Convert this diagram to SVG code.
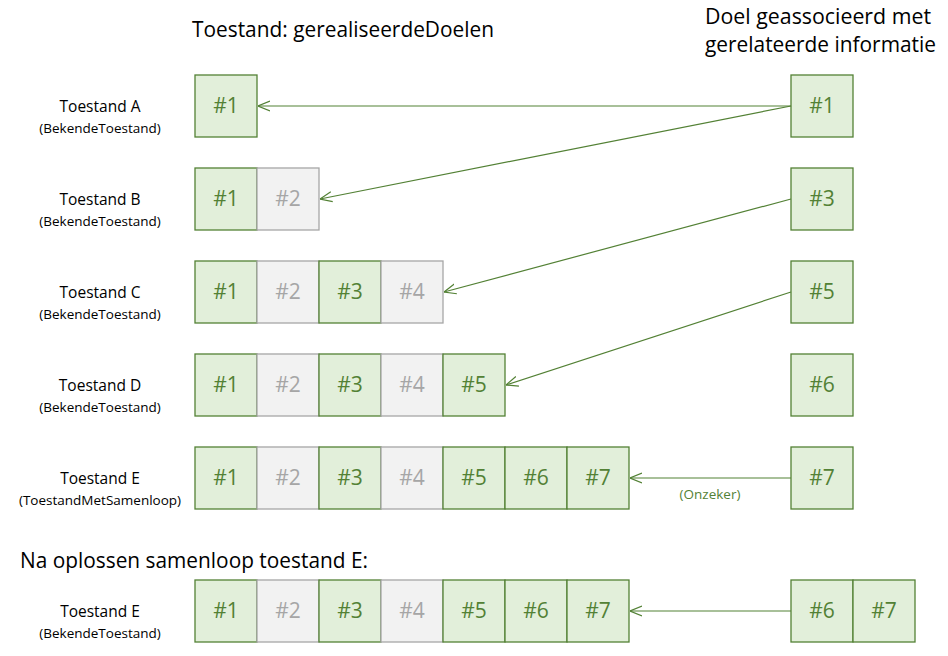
<svg xmlns="http://www.w3.org/2000/svg" width="948" height="656" viewBox="0 0 948 656">
<style>
.g{fill:#E2EFDA;stroke:#538135;stroke-width:1.3}
.x{fill:#F2F2F2;stroke:#A6A6A6;stroke-width:1.3}
.gt{fill:#538135;font-family:"Open Sans","Liberation Sans",sans-serif;font-size:21px;text-anchor:middle}
.xt{fill:#A6A6A6;font-family:"Open Sans","Liberation Sans",sans-serif;font-size:21px;text-anchor:middle}
.lb{fill:#000;font-family:"Open Sans","Liberation Sans",sans-serif;font-size:15.5px;text-anchor:middle}
.sl{fill:#000;font-family:"Open Sans","Liberation Sans",sans-serif;font-size:13.5px;text-anchor:middle}
.h{fill:#000;font-family:"Open Sans","Liberation Sans",sans-serif;font-size:21px}
.c{stroke:#538135;stroke-width:1.2;fill:none;marker-end:url(#ah)}
</style>
<defs>
<marker id="ah" viewBox="0 0 12 12" refX="12" refY="6" markerWidth="12" markerHeight="12" markerUnits="userSpaceOnUse" orient="auto">
<path d="M0,1 L12,6 L0,11" fill="none" stroke="#538135" stroke-width="1.2"/>
</marker>
</defs>
<g id="headers">
<text class="h" x="192" y="37" textLength="302" lengthAdjust="spacingAndGlyphs">Toestand: gerealiseerdeDoelen</text>
<text class="h" x="705" y="24" textLength="226" lengthAdjust="spacingAndGlyphs">Doel geassocieerd met</text>
<text class="h" x="705" y="52" textLength="231" lengthAdjust="spacingAndGlyphs">gerelateerde informatie</text>
<text class="h" x="20" y="568" textLength="348" lengthAdjust="spacingAndGlyphs">Na oplossen samenloop toestand E:</text>
</g>
<g id="labels">
<text class="lb" x="100" y="112">Toestand A</text><text class="sl" x="100" y="133">(BekendeToestand)</text>
<text class="lb" x="100" y="205">Toestand B</text><text class="sl" x="100" y="226">(BekendeToestand)</text>
<text class="lb" x="100" y="298">Toestand C</text><text class="sl" x="100" y="319">(BekendeToestand)</text>
<text class="lb" x="100" y="391">Toestand D</text><text class="sl" x="100" y="412">(BekendeToestand)</text>
<text class="lb" x="100" y="484">Toestand E</text><text class="sl" x="100" y="505">(ToestandMetSamenloop)</text>
<text class="lb" x="100" y="617">Toestand E</text><text class="sl" x="100" y="638">(BekendeToestand)</text>
</g>
<g id="rowA">
<rect class="g" x="195" y="75" width="62" height="62"/><text class="gt" x="226" y="113">#1</text>
</g>
<g id="rowB">
<rect class="g" x="195" y="168" width="62" height="62"/><text class="gt" x="226" y="206">#1</text>
<rect class="x" x="257" y="168" width="62" height="62"/><text class="xt" x="288" y="206">#2</text>
</g>
<g id="rowC">
<rect class="g" x="195" y="261" width="62" height="62"/><text class="gt" x="226" y="299">#1</text>
<rect class="x" x="257" y="261" width="62" height="62"/><text class="xt" x="288" y="299">#2</text>
<rect class="g" x="319" y="261" width="62" height="62"/><text class="gt" x="350" y="299">#3</text>
<rect class="x" x="381" y="261" width="62" height="62"/><text class="xt" x="412" y="299">#4</text>
</g>
<g id="rowD">
<rect class="g" x="195" y="354" width="62" height="62"/><text class="gt" x="226" y="392">#1</text>
<rect class="x" x="257" y="354" width="62" height="62"/><text class="xt" x="288" y="392">#2</text>
<rect class="g" x="319" y="354" width="62" height="62"/><text class="gt" x="350" y="392">#3</text>
<rect class="x" x="381" y="354" width="62" height="62"/><text class="xt" x="412" y="392">#4</text>
<rect class="g" x="443" y="354" width="62" height="62"/><text class="gt" x="474" y="392">#5</text>
</g>
<g id="rowE">
<rect class="g" x="195" y="447" width="62" height="62"/><text class="gt" x="226" y="485">#1</text>
<rect class="x" x="257" y="447" width="62" height="62"/><text class="xt" x="288" y="485">#2</text>
<rect class="g" x="319" y="447" width="62" height="62"/><text class="gt" x="350" y="485">#3</text>
<rect class="x" x="381" y="447" width="62" height="62"/><text class="xt" x="412" y="485">#4</text>
<rect class="g" x="443" y="447" width="62" height="62"/><text class="gt" x="474" y="485">#5</text>
<rect class="g" x="505" y="447" width="62" height="62"/><text class="gt" x="536" y="485">#6</text>
<rect class="g" x="567" y="447" width="62" height="62"/><text class="gt" x="598" y="485">#7</text>
</g>
<g id="rowF">
<rect class="g" x="195" y="580" width="62" height="62"/><text class="gt" x="226" y="618">#1</text>
<rect class="x" x="257" y="580" width="62" height="62"/><text class="xt" x="288" y="618">#2</text>
<rect class="g" x="319" y="580" width="62" height="62"/><text class="gt" x="350" y="618">#3</text>
<rect class="x" x="381" y="580" width="62" height="62"/><text class="xt" x="412" y="618">#4</text>
<rect class="g" x="443" y="580" width="62" height="62"/><text class="gt" x="474" y="618">#5</text>
<rect class="g" x="505" y="580" width="62" height="62"/><text class="gt" x="536" y="618">#6</text>
<rect class="g" x="567" y="580" width="62" height="62"/><text class="gt" x="598" y="618">#7</text>
</g>
<g id="right">
<rect class="g" x="791" y="75" width="62" height="62"/><text class="gt" x="822" y="113">#1</text>
<rect class="g" x="791" y="168" width="62" height="62"/><text class="gt" x="822" y="206">#3</text>
<rect class="g" x="791" y="261" width="62" height="62"/><text class="gt" x="822" y="299">#5</text>
<rect class="g" x="791" y="354" width="62" height="62"/><text class="gt" x="822" y="392">#6</text>
<rect class="g" x="791" y="447" width="62" height="62"/><text class="gt" x="822" y="485">#7</text>
<rect class="g" x="791" y="580" width="62" height="62"/><text class="gt" x="822" y="618">#6</text>
<rect class="g" x="853" y="580" width="62" height="62"/><text class="gt" x="884" y="618">#7</text>
</g>
<g id="connectors">
<line class="c" x1="791" y1="106" x2="258" y2="106"/>
<line class="c" x1="791" y1="106" x2="320" y2="199"/>
<line class="c" x1="791" y1="199" x2="444" y2="292"/>
<line class="c" x1="791" y1="292" x2="506" y2="385"/>
<line class="c" x1="791" y1="478" x2="630" y2="478"/>
<line class="c" x1="791" y1="611" x2="630" y2="611"/>
<text x="710" y="499" fill="#538135" font-family="'Open Sans','Liberation Sans',sans-serif" font-size="13.5" text-anchor="middle">(Onzeker)</text>
</g>
</svg>
